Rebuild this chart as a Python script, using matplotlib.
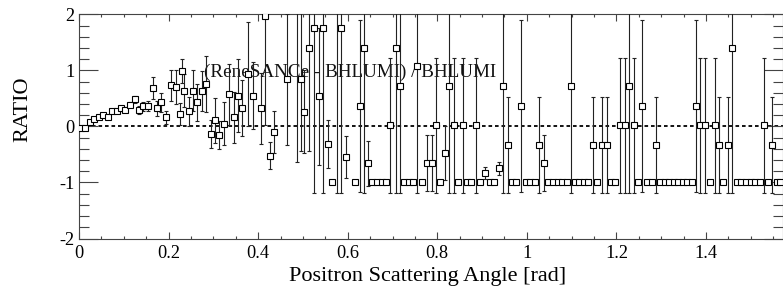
import numpy as np
import matplotlib.pyplot as plt
from matplotlib.ticker import MultipleLocator, FuncFormatter

plt.rcParams['font.family'] = ['Liberation Serif', 'DejaVu Serif']

# positron scattering angle [rad], ratio (ReneSANCe - BHLUMI) / BHLUMI, error
angle = [
    0.0045, 0.0134, 0.0239, 0.0335, 0.0440, 0.0536, 0.0641, 0.0737, 0.0842, 0.0938,
    0.1033, 0.1145, 0.1243, 0.1339, 0.1435, 0.1533, 0.1652, 0.1748, 0.1830, 0.1942,
    0.2047, 0.2158, 0.2254, 0.2306, 0.2350, 0.2455, 0.2551, 0.2641, 0.2739, 0.2835,
    0.2946, 0.3042, 0.3132, 0.3243, 0.3348, 0.3453, 0.3542, 0.3638, 0.3779, 0.3877,
    0.4056, 0.4145, 0.4263, 0.4346, 0.4643, 0.4859, 0.4955, 0.5033, 0.5141, 0.5252,
    0.5350, 0.5440, 0.5551, 0.5647, 0.5766, 0.5848, 0.5953, 0.6154, 0.6266, 0.6355,
    0.6451, 0.6547, 0.6645, 0.6757, 0.6853, 0.6949, 0.7069, 0.7158, 0.7254, 0.7359,
    0.7455, 0.7551, 0.7656, 0.7761, 0.7873, 0.7962, 0.8065, 0.8170, 0.8259, 0.8371,
    0.8460, 0.8571, 0.8654, 0.8750, 0.8862, 0.8958, 0.9069, 0.9167, 0.9263, 0.9375,
    0.9464, 0.9569, 0.9672, 0.9761, 0.9873, 0.9971, 1.0074, 1.0172, 1.0268, 1.0373,
    1.0469, 1.0580, 1.0685, 1.0788, 1.0893, 1.0975, 1.1065, 1.1161, 1.1266, 1.1368,
    1.1473, 1.1563, 1.1667, 1.1779, 1.1868, 1.1971, 1.2076, 1.2181, 1.2277, 1.2382,
    1.2471, 1.2567, 1.2679, 1.2783, 1.2886, 1.2969, 1.3080, 1.3176, 1.3281, 1.3377,
    1.3482, 1.3578, 1.3683, 1.3779, 1.3868, 1.3973, 1.4085, 1.4190, 1.4286, 1.4375,
    1.4480, 1.4576, 1.4688, 1.4792, 1.4895, 1.5000, 1.5096, 1.5201, 1.5290, 1.5379,
    1.5484, 1.5574, 1.5663,
]
ratio = [
    -0.02, -0.02, 0.07, 0.13, 0.17, 0.20, 0.17, 0.27, 0.27, 0.32,
    0.30, 0.39, 0.48, 0.29, 0.36, 0.37, 0.69, 0.32, 0.43, 0.16,
    0.73, 0.70, 0.22, 0.99, 0.64, 0.27, 0.64, 0.43, 0.63, 0.75,
    -0.13, 0.11, -0.15, 0.05, 0.57, 0.16, 0.55, 0.33, 0.93, 0.55,
    0.32, 1.97, -0.52, -0.10, 0.84, 2.60, 0.84, 0.26, 1.40, 1.76,
    0.54, 1.76, -0.32, -1.00, 2.60, 1.76, -0.55, -1.00, 0.36, 1.40,
    -0.66, -1.00, -1.00, -1.00, -1.00, 0.02, 1.40, 0.72, -1.00, -1.00,
    -1.00, 1.07, -1.00, -0.66, -0.66, 0.02, -1.00, -0.48, 0.72, 0.02,
    -1.00, 0.02, -1.00, -1.00, 0.02, -1.00, -0.83, -1.00, -1.00, -0.75,
    0.72, -0.33, -1.00, -1.00, 0.36, -1.00, -1.00, -1.00, -0.33, -0.66,
    -1.00, -1.00, -1.00, -1.00, -1.00, 0.72, -1.00, -1.00, -1.00, -1.00,
    -0.33, -1.00, -0.33, -0.33, -1.00, -1.00, 0.02, 0.02, 0.72, 0.02,
    -1.00, 0.36, -1.00, -1.00, -0.33, -1.00, -1.00, -1.00, -1.00, -1.00,
    -1.00, -1.00, -1.00, 0.36, 0.02, 0.02, -1.00, 0.02, -0.33, -1.00,
    -0.33, 1.40, -1.00, -1.00, -1.00, -1.00, -1.00, -1.00, 0.02, -1.00,
    -0.33, -1.00, -1.00,
]
ratio_err = [
    0.01, 0.01, 0.02, 0.02, 0.02, 0.02, 0.03, 0.03, 0.03, 0.04,
    0.04, 0.05, 0.07, 0.07, 0.08, 0.09, 0.20, 0.14, 0.17, 0.12,
    0.28, 0.30, 0.20, 0.22, 0.30, 0.26, 0.36, 0.33, 0.36, 0.50,
    0.25, 0.40, 0.25, 0.38, 0.55, 0.45, 0.65, 0.50, 0.93, 0.60,
    0.64, 1.95, 0.24, 0.37, 1.17, 3.24, 1.27, 0.74, 1.83, 2.94,
    1.22, 2.94, 0.43, 0.00, 3.78, 2.94, 0.37, 0.00, 1.53, 2.58,
    0.40, 0.00, 0.00, 0.00, 0.00, 1.20, 2.58, 1.90, 0.00, 0.00,
    0.00, 2.25, 0.00, 0.50, 0.50, 1.20, 0.00, 0.48, 1.90, 1.20,
    0.00, 1.20, 0.00, 0.00, 1.20, 0.00, 0.10, 0.00, 0.00, 0.11,
    1.90, 0.85, 0.00, 0.00, 1.53, 0.00, 0.00, 0.00, 0.85, 0.50,
    0.00, 0.00, 0.00, 0.00, 0.00, 1.90, 0.00, 0.00, 0.00, 0.00,
    0.85, 0.00, 0.85, 0.85, 0.00, 0.00, 1.20, 1.20, 1.90, 1.20,
    0.00, 1.53, 0.00, 0.00, 0.85, 0.00, 0.00, 0.00, 0.00, 0.00,
    0.00, 0.00, 0.00, 1.53, 1.20, 1.20, 0.00, 1.20, 0.85, 0.00,
    0.85, 2.58, 0.00, 0.00, 0.00, 0.00, 0.00, 0.00, 1.20, 0.00,
    0.85, 0.00, 0.00,
]

x_ticks = [0, 0.2, 0.4, 0.6, 0.8, 1.0, 1.2, 1.4]
y_ticks = [-2, -1, 0, 1, 2]
title = '(ReneSANCe - BHLUMI) / BHLUMI'

fig = plt.figure(figsize=(7.83, 2.96), dpi=100)
ax = fig.add_axes([79 / 783, 57.5 / 296, 703.5 / 783, 224.2 / 296])

ax.axhline(0, color='black', lw=1.3, ls=(0, (2, 1.6)), zorder=1)
ax.errorbar(angle, ratio, yerr=ratio_err, fmt='s', ms=4.2, mfc='white',
            mec='black', mew=0.8, ecolor='#222222', elinewidth=0.8,
            capsize=1.6, capthick=0.8, zorder=3)

ax.text(0.279, 0.875, title, fontsize=13.8, ha='left', va='baseline',
        color='#111111', zorder=2)

ax.set_xlim(0, np.pi / 2)
ax.set_ylim(-2, 2)
ax.set_xticks(x_ticks)
ax.set_yticks(y_ticks)
ax.xaxis.set_minor_locator(MultipleLocator(0.05))
ax.yaxis.set_minor_locator(MultipleLocator(0.2))
ax.xaxis.set_major_formatter(FuncFormatter(lambda v, p: f'{v:g}'))
ax.yaxis.set_major_formatter(FuncFormatter(lambda v, p: f'{v:g}'))

ax.tick_params(which='both', direction='in', top=True, right=True,
               color='#444444', width=0.8, labelsize=13.2)
ax.tick_params(axis='x', which='major', length=5, pad=5)
ax.tick_params(axis='x', which='minor', length=2.5)
ax.tick_params(axis='y', which='major', length=13.5, pad=3)
ax.tick_params(axis='y', which='minor', length=7)
for s in ax.spines.values():
    s.set_color('#444444')
    s.set_linewidth(0.8)

fig.text(428 / 783, 1 - 277 / 296, 'Positron Scattering Angle [rad]',
         ha='center', va='center', fontsize=16)
fig.text(23 / 783, 1 - 109 / 296, 'RATIO', ha='center', va='center',
         rotation=90, fontsize=16)

fig.savefig('out.png', dpi=100)
